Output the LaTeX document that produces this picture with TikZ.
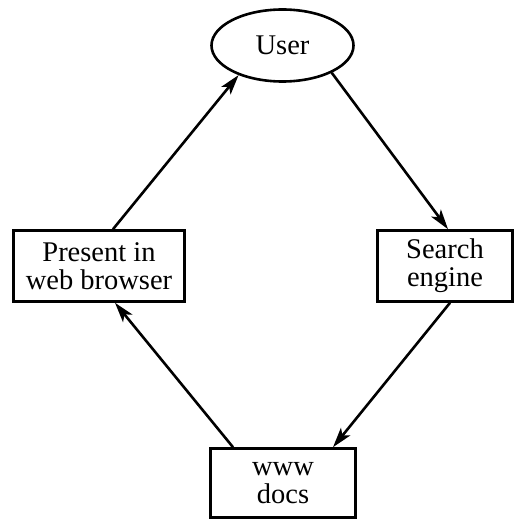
\documentclass[tikz,border=0pt]{standalone}
\usepackage{fontspec}
\setmainfont{Liberation Serif}
\usetikzlibrary{shapes.geometric,arrows.meta}
\begin{document}
\begin{tikzpicture}[x=1pt,y=-1pt,
  every node/.style={font=\fontsize{28.5}{28}\selectfont, align=center, inner sep=0pt, line width=2.6pt},
  boxnode/.style={draw, rectangle},
  ovalnode/.style={draw, ellipse},
  arr/.style={line width=2.6pt, -{Stealth[length=20pt,width=12pt,inset=5pt]}}]
\useasboundingbox (0,0) rectangle (515,521);
\node[ovalnode, minimum width=142pt, minimum height=72pt] (user) at (282.5,45.5) {User};
\node[boxnode, minimum width=171pt, minimum height=71pt] (present) at (99,266) {Present in\\web browser};
\node[boxnode, minimum width=135pt, minimum height=71pt] (search) at (445,266) {Search\\engine};
\node[boxnode, minimum width=145pt, minimum height=69pt] (www) at (283,483) {www\\docs};
\draw[arr] ([xshift=14pt]present.north) -- (user.214);
\draw[arr] (user.331) -- ([xshift=3pt]search.north);
\draw[arr] ([xshift=5pt]search.south) -- ([xshift=50pt]www.north);
\draw[arr] ([xshift=-50pt]www.north) -- ([xshift=16pt]present.south);
\end{tikzpicture}
\end{document}
